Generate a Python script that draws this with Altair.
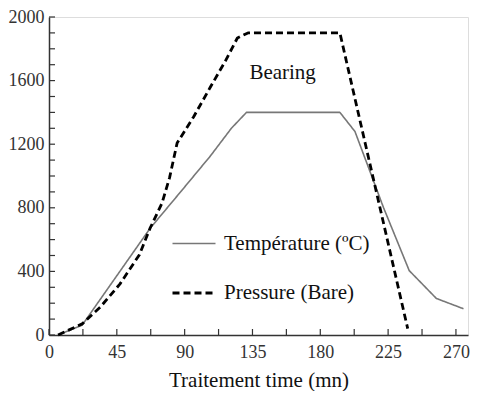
import altair as alt
import pandas as pd

# Temperature series (time in mn, value)
temp_x = [6, 22, 67, 88, 107, 121, 131, 193, 203, 222, 239, 257, 275]
temp_y = [0, 62, 670, 908, 1125, 1300, 1400, 1400, 1280, 800, 405, 230, 165]

# Pressure series
pres_x = [6, 22, 34, 47, 60, 67, 75, 80, 85, 96, 107, 117, 125, 132, 193, 238]
pres_y = [0, 70, 175, 320, 505, 670, 830, 990, 1207, 1373, 1558, 1723, 1868, 1900, 1900, 40]

series_names = ["Température (ºC)", "Pressure (Bare)"]
x_label_values = [0, 45, 90, 135, 180, 225, 270]
x_tick_values = [0, 22.5, 45, 67.5, 90, 112.5, 135, 157.5, 180, 202.5, 225, 247.5, 270]
y_label_values = [0, 200, 400, 600, 800, 1000, 1200, 1400, 1600, 1800, 2000]
y_tick_values = list(range(0, 2001, 100))
annot_text = ["Bearing"]
annot_x = [155]
annot_y = [1645]

W, H = 419, 318
FONT = "Liberation Serif"

rows = []
for i, (x, y) in enumerate(zip(temp_x, temp_y)):
    rows.append({"t": x, "v": y, "series": series_names[0], "order": i})
for i, (x, y) in enumerate(zip(pres_x, pres_y)):
    rows.append({"t": x, "v": y, "series": series_names[1], "order": i})
df = pd.DataFrame(rows)

xscale = alt.Scale(domain=[0, 278], nice=False, zero=False)
yscale = alt.Scale(domain=[0, 2000], nice=False)

legend_kw = dict(title=None, orient="none", legendX=122, legendY=204,
                 symbolType="stroke", symbolSize=1849,
                 symbolStrokeWidth=2.5, labelFont=FONT,
                 labelFontSize=21, labelColor="#111",
                 rowPadding=16, labelOffset=7, padding=0,
                 labelLimit=300)

lines = alt.Chart(df).mark_line(strokeJoin="round").encode(
    x=alt.X("t:Q", scale=xscale,
            axis=alt.Axis(values=x_label_values, title="Traitement time (mn)", grid=False,
                          tickSize=0, labelPadding=8, titlePadding=8, format="d",
                          labelFont=FONT, titleFont=FONT, labelFontSize=18, titleFontSize=21,
                          titleFontWeight="normal", labelColor="#333", titleColor="#111",
                          domainColor="#333", domainWidth=1.5, labelFlush=False,
                          labelOverlap=False)),
    y=alt.Y("v:Q", scale=yscale,
            axis=alt.Axis(values=y_label_values, title=None, grid=False, tickSize=0,
                          labelPadding=5, labelFont=FONT, labelFontSize=18, format="d",
                          labelColor="#333", domainColor="#333", domainWidth=1.5,
                          labelOverlap=False, labelFlush=False)),
    color=alt.Color("series:N",
                    scale=alt.Scale(domain=series_names, range=["#777777", "#000000"]),
                    legend=alt.Legend(**legend_kw)),
    strokeDash=alt.StrokeDash("series:N",
                              scale=alt.Scale(domain=series_names, range=[[1, 0], [7, 4]]),
                              legend=alt.Legend(**legend_kw)),
    strokeWidth=alt.StrokeWidth("series:N",
                                scale=alt.Scale(domain=series_names, range=[1.6, 2.8]),
                                legend=None),
    order="order:Q",
)

xt = pd.DataFrame({"t": x_tick_values})
xticks = alt.Chart(xt).mark_rule(color="#333", strokeWidth=1.2).encode(
    x=alt.X("t:Q", scale=xscale), y=alt.value(H), y2=alt.value(H - 6))

yt = pd.DataFrame({"v": y_tick_values})
yticks = alt.Chart(yt).mark_rule(color="#333", strokeWidth=1.2).encode(
    y=alt.Y("v:Q", scale=yscale), x=alt.value(0), x2=alt.value(6))

ann = pd.DataFrame({"t": annot_x, "v": annot_y, "label": annot_text})
annot = alt.Chart(ann).mark_text(font=FONT, fontSize=21, color="#111",
                                 align="center", baseline="middle").encode(
    x=alt.X("t:Q", scale=xscale), y=alt.Y("v:Q", scale=yscale), text="label:N")

chart = alt.layer(lines, xticks, yticks, annot).properties(
    width=W, height=H,
    autosize=alt.AutoSizeParams(type="none"),
    padding={"left": 41, "top": 9, "right": 4, "bottom": 56},
).configure_view(stroke="#444", strokeWidth=1.5).configure(background="white")

chart.save("out.html", embed_options={"renderer": "svg", "actions": False})
